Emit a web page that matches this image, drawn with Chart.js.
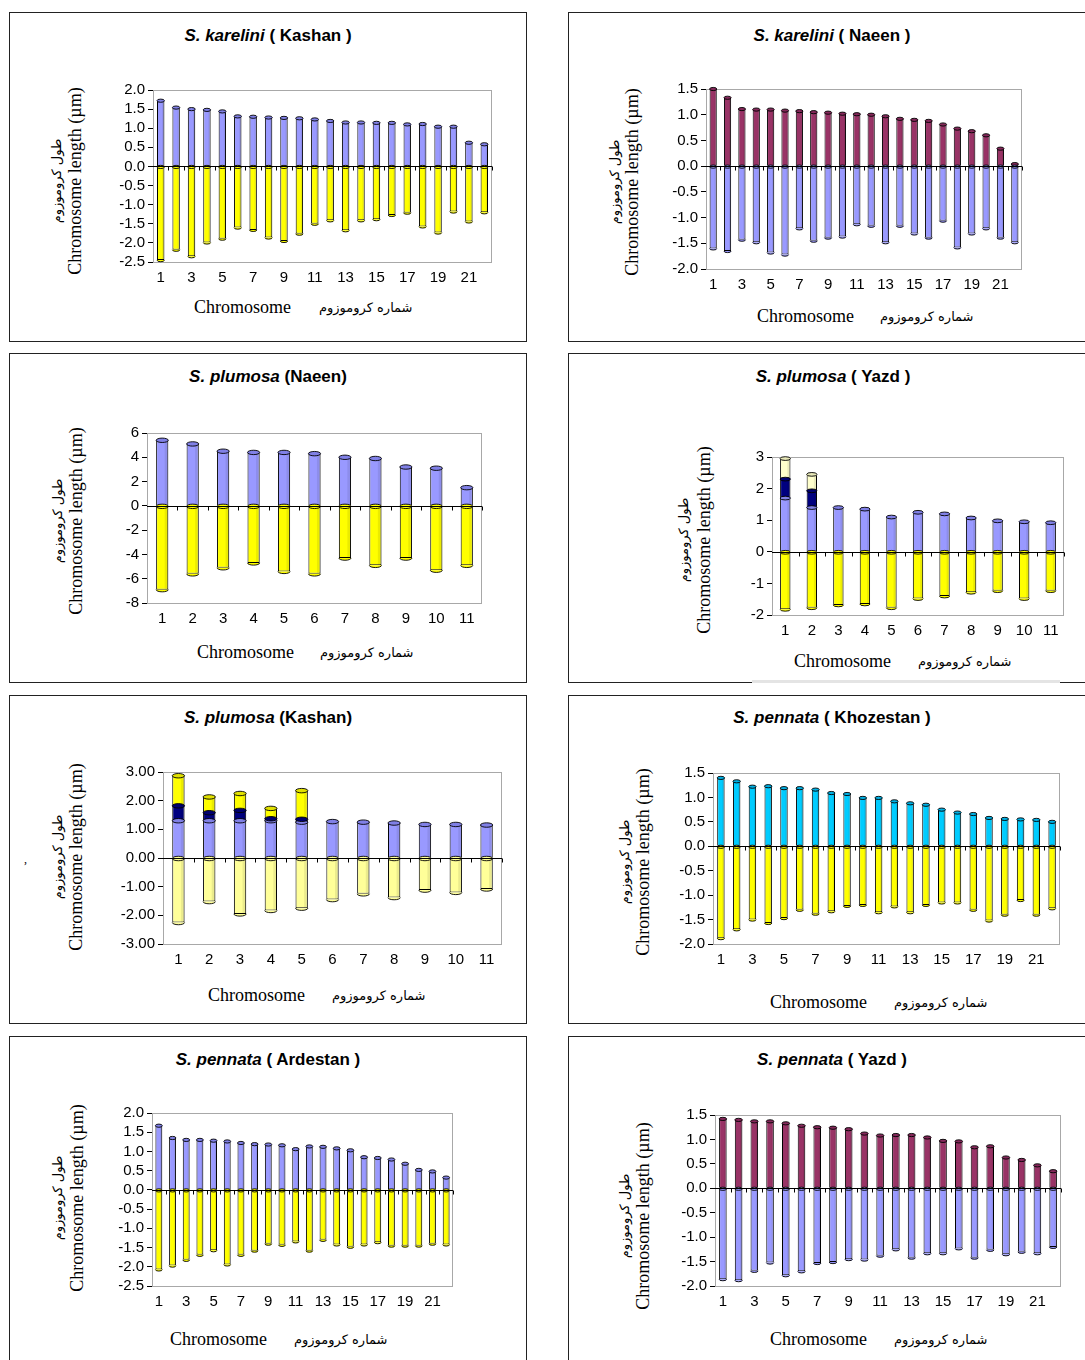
<!DOCTYPE html>
<html>
<head>
<meta charset="utf-8">
<script src="https://cdn.jsdelivr.net/npm/chart.js@4.4.0/dist/chart.umd.min.js"></script>
<style>
  body { margin: 0; background: #fff; }
  #page { position: relative; width: 1085px; height: 1360px; overflow: hidden; background: #fff; }
  .box { position: absolute; border: 1.5px solid #222; box-sizing: border-box; }
  .title { position: absolute; width: 400px; height: 22px; line-height: 22px; text-align: center;
           font: bold 17px "Liberation Sans", Arial, sans-serif; color: #000; white-space: nowrap; }
  .rot { position: absolute; width: 300px; height: 20px; line-height: 20px; text-align: center;
         transform: rotate(-90deg); white-space: nowrap; color: #000; }
  .en { font: 18px "Liberation Serif", "Times New Roman", serif; }
  .fa { font: 13px "DejaVu Sans", sans-serif; }
  .xl { position: absolute; height: 20px; line-height: 20px; white-space: nowrap; color: #000; }
  canvas { position: absolute; }
</style>
</head>
<body>
<div id="page"></div>
<script>
// chromosome numbers on the x axis
var labels22 = ["1","2","3","4","5","6","7","8","9","10","11","12","13","14","15","16","17","18","19","20","21","22"];
var labels11 = ["1","2","3","4","5","6","7","8","9","10","11"];

// S. karelini (Kashan)
var karKashanUp   = [1.72,1.54,1.50,1.48,1.44,1.31,1.30,1.28,1.27,1.26,1.23,1.19,1.15,1.15,1.14,1.14,1.10,1.11,1.04,1.04,0.62,0.58];
var karKashanDown = [-2.45,-2.18,-2.35,-1.99,-1.89,-1.60,-1.66,-1.86,-1.95,-1.76,-1.50,-1.41,-1.67,-1.41,-1.38,-1.27,-1.21,-1.57,-1.73,-1.18,-1.44,-1.20];
// S. karelini (Naeen)
var karNaeenUp    = [1.50,1.33,1.11,1.10,1.10,1.08,1.07,1.05,1.04,1.02,1.01,1.00,0.97,0.92,0.90,0.88,0.81,0.73,0.68,0.60,0.34,0.04];
var karNaeenDown  = [-1.60,-1.65,-1.43,-1.48,-1.68,-1.72,-1.21,-1.45,-1.39,-1.37,-1.13,-1.16,-1.48,-1.16,-1.31,-1.39,-1.06,-1.58,-1.31,-1.21,-1.39,-1.48];
// S. plumosa (Naeen)
var pluNaeenUp    = [5.4,5.1,4.5,4.4,4.4,4.3,4.0,3.9,3.2,3.1,1.5];
var pluNaeenDown  = [-6.9,-5.6,-5.1,-4.7,-5.4,-5.6,-4.3,-4.9,-4.3,-5.3,-4.9];
// S. plumosa (Yazd) - arm, satellite, top piece
var pluYazdUp     = [1.70,1.40,1.40,1.35,1.10,1.25,1.20,1.07,0.98,0.95,0.92];
var pluYazdSat    = [0.60,0.53,null,null,null,null,null,null,null,null,null];
var pluYazdTop    = [0.65,0.52,null,null,null,null,null,null,null,null,null];
var pluYazdDown   = [-1.82,-1.77,-1.68,-1.65,-1.77,-1.48,-1.40,-1.28,-1.23,-1.48,-1.23];
// S. plumosa (Kashan)
var pluKashanUp   = [1.30,1.30,1.30,1.30,1.25,1.27,1.25,1.22,1.17,1.17,1.15];
var pluKashanSat  = [0.52,0.28,0.36,0.07,0.10,null,null,null,null,null,null];
var pluKashanTop  = [1.05,0.55,0.59,0.36,1.00,null,null,null,null,null,null];
var pluKashanDown = [-2.25,-1.52,-1.95,-1.83,-1.75,-1.45,-1.25,-1.38,-1.12,-1.20,-1.08];
// S. pennata (Khozestan)
var penKhozUp     = [1.40,1.33,1.22,1.23,1.19,1.19,1.16,1.09,1.07,0.99,0.99,0.92,0.88,0.85,0.75,0.69,0.66,0.58,0.56,0.55,0.54,0.50];
var penKhozDown   = [-1.88,-1.70,-1.50,-1.57,-1.47,-1.30,-1.38,-1.33,-1.22,-1.20,-1.35,-1.23,-1.35,-1.20,-1.15,-1.15,-1.30,-1.52,-1.40,-1.10,-1.40,-1.27];
// S. pennata (Ardestan)
var penArdUp      = [1.67,1.35,1.30,1.30,1.28,1.26,1.22,1.19,1.18,1.16,1.06,1.13,1.12,1.08,1.03,0.85,0.83,0.79,0.68,0.52,0.48,0.32];
var penArdDown    = [-2.07,-1.97,-1.82,-1.69,-1.57,-1.94,-1.69,-1.58,-1.40,-1.43,-1.34,-1.58,-1.30,-1.42,-1.48,-1.42,-1.36,-1.45,-1.45,-1.45,-1.40,-1.42];
// S. pennata (Yazd)
var penYazdUp     = [1.42,1.40,1.37,1.37,1.33,1.28,1.25,1.24,1.21,1.12,1.08,1.09,1.09,1.04,0.97,0.96,0.84,0.86,0.63,0.58,0.47,0.35];
var penYazdDown   = [-1.86,-1.88,-1.69,-1.52,-1.78,-1.70,-1.53,-1.51,-1.45,-1.46,-1.38,-1.25,-1.42,-1.33,-1.33,-1.23,-1.42,-1.26,-1.35,-1.30,-1.33,-1.20];

// colours (fill, cap)
var LAV = ["#9999FF", "#8080e6"];
var YEL = ["#FFFF00", "#e0e000"];
var PALE = ["#FFFF99", "#e4e484"];
var MAR = ["#993366", "#84285a"];
var CYA = ["#00CCFF", "#00b0e4"];
var NAV = ["#000080", "#000070"];
var CRM = ["#FFFFCC", "#e8e8b8"];

var page = document.getElementById("page");

function el(cls, html, css) {
  var d = document.createElement("div");
  d.className = cls;
  d.innerHTML = html;
  for (var k in css) d.style[k] = css[k];
  page.appendChild(d);
  return d;
}

function ds(data, col) {
  return { data: data, backgroundColor: col[0], capColor: col[1] };
}

// cylinder-ish look, plot frame, zero line and x tick marks
var cylinder = {
  id: "cylinder",
  beforeDatasetsDraw: function (chart) {
    var a = chart.chartArea, ctx = chart.ctx;
    ctx.save();
    ctx.strokeStyle = "#a8a8a8";
    ctx.lineWidth = 1;
    ctx.strokeRect(a.left + 0.5, a.top + 0.5, a.width - 1, a.height);
    ctx.restore();
  },
  afterDatasetsDraw: function (chart) {
    var ctx = chart.ctx, a = chart.chartArea;
    ctx.save();
    chart.data.datasets.forEach(function (set, di) {
      var meta = chart.getDatasetMeta(di);
      meta.data.forEach(function (bar, i) {
        var v = set.data[i];
        if (v == null) return;
        var w = bar.width, top = Math.min(bar.y, bar.base), bot = Math.max(bar.y, bar.base);
        var ry = Math.max(1.6, w * 0.18);
        ctx.fillStyle = "rgba(0,0,0,0.08)";
        ctx.fillRect(bar.x + w * 0.2, top, w * 0.3, bot - top);
        ctx.lineWidth = 0.9;
        ctx.strokeStyle = "#000";
        if (v > 0) {
          ctx.beginPath();
          ctx.ellipse(bar.x, bar.y, w / 2, ry, 0, 0, Math.PI * 2);
          ctx.fillStyle = set.capColor;
          ctx.fill();
          ctx.stroke();
        } else {
          ctx.beginPath();
          ctx.ellipse(bar.x, bar.y, w / 2, ry, 0, 0, Math.PI);
          ctx.fillStyle = set.backgroundColor;
          ctx.fill();
          ctx.stroke();
          ctx.beginPath();
          ctx.ellipse(bar.x, bar.base, w / 2, ry, 0, 0, Math.PI * 2);
          ctx.fillStyle = set.backgroundColor;
          ctx.fill();
          ctx.stroke();
        }
      });
    });
    var ys = chart.scales.y, xs = chart.scales.x;
    var y0 = Math.round(ys.getPixelForValue(0)) + 0.5;
    ctx.strokeStyle = "#000";
    ctx.lineWidth = 1;
    ctx.beginPath();
    ctx.moveTo(a.left, y0);
    ctx.lineTo(a.right, y0);
    var n = chart.data.labels.length;
    for (var i = 1; i <= n; i++) {
      var bx = i < n ? (xs.getPixelForValue(i - 1) + xs.getPixelForValue(i)) / 2 : a.right;
      bx = Math.round(bx) + 0.5;
      ctx.moveTo(bx, y0);
      ctx.lineTo(bx, y0 + 4);
    }
    ctx.stroke();
    ctx.restore();
  }
};

var YW = 46, PT = 9, PR = 9, XH = 30;
var tickFont = { family: "Liberation Sans", size: 15 };

function panel(p) {
  // frame and texts
  el("box", "", { left: p.box[0] + "px", top: p.box[1] + "px", width: p.box[2] + "px", height: p.box[3] + "px" });
  el("title", p.title, { left: (p.titleAt[0] - 200) + "px", top: (p.titleAt[1] - 11) + "px" });
  el("rot fa", "طول کروموزوم", { left: (p.yAt[0] - 150) + "px", top: (p.yAt[2] - 10) + "px" });
  el("rot en", "Chromosome length (µm)", { left: (p.yAt[1] - 150) + "px", top: (p.yAt[2] - 10) + "px" });
  el("xl en", "Chromosome", { left: p.xAt[0] + "px", top: (p.xAt[2] - 10) + "px" });
  el("xl fa", "شماره کروموزوم", { left: p.xAt[1] + "px", top: (p.xAt[2] - 9) + "px", direction: "rtl" });

  var l = p.plot[0], t = p.plot[1], r = p.plot[2], b = p.plot[3];
  var c = document.createElement("canvas");
  c.width = YW + (r - l) + PR;
  c.height = PT + (b - t) + XH;
  c.style.left = (l - YW) + "px";
  c.style.top = (t - PT) + "px";
  c.style.width = c.width + "px";
  c.style.height = c.height + "px";
  page.appendChild(c);

  var odd = p.labels.length > 11;
  new Chart(c, {
    type: "bar",
    data: { labels: p.labels, datasets: p.datasets },
    options: {
      responsive: false,
      animation: false,
      events: [],
      layout: { padding: { top: PT, right: PR, left: 0, bottom: 0 } },
      datasets: { bar: { barPercentage: p.bar, categoryPercentage: 1, borderWidth: 1, borderColor: "#000" } },
      plugins: { legend: { display: false }, tooltip: { enabled: false } },
      scales: {
        x: {
          stacked: true,
          offset: true,
          grid: { display: false, drawTicks: false },
          border: { display: false },
          ticks: {
            autoSkip: false, maxRotation: 0, padding: 7, color: "#000", font: tickFont,
            callback: function (v, i) { return odd && i % 2 ? "" : p.labels[i]; }
          },
          afterFit: function (s) { s.height = XH; }
        },
        y: {
          stacked: true,
          min: p.y[0], max: p.y[1],
          ticks: {
            stepSize: p.y[2], autoSkip: false, color: "#000", font: tickFont, padding: 3,
            callback: function (v) { return Number(v).toFixed(p.y[3]); }
          },
          grid: { drawOnChartArea: false, color: "#000", tickLength: 5 },
          border: { color: "#000" },
          afterFit: function (s) { s.width = YW; }
        }
      }
    },
    plugins: [cylinder]
  });
}

panel({
  box: [9, 12, 518, 330], title: "<i>S. karelini</i> ( Kashan )", titleAt: [268, 37],
  yAt: [59, 75, 181], xAt: [194, 319, 307],
  plot: [153, 87, 492, 262], y: [-2.5, 2.0, 0.5, 1], bar: 0.48,
  labels: labels22, datasets: [ds(karKashanUp, LAV), ds(karKashanDown, YEL)]
});
panel({
  box: [568, 12, 530, 330], title: "<i>S. karelini</i> ( Naeen )", titleAt: [832, 37],
  yAt: [617, 632, 182], xAt: [757, 880, 316],
  plot: [706, 86, 1022, 269], y: [-2.0, 1.5, 0.5, 1], bar: 0.5,
  labels: labels22, datasets: [ds(karNaeenUp, MAR), ds(karNaeenDown, LAV)]
});
panel({
  box: [9, 353, 518, 330], title: "<i>S. plumosa</i> (Naeen)", titleAt: [268, 378],
  yAt: [60, 76, 521], xAt: [197, 320, 652],
  plot: [147, 430, 482, 603], y: [-8, 6, 2, 0], bar: 0.4,
  labels: labels11, datasets: [ds(pluNaeenUp, LAV), ds(pluNaeenDown, YEL)]
});
panel({
  box: [568, 353, 530, 330], title: "<i>S. plumosa</i> ( Yazd )", titleAt: [833, 378],
  yAt: [686, 704, 540], xAt: [794, 918, 661],
  plot: [772, 454, 1064, 615], y: [-2, 3, 1, 0], bar: 0.39,
  labels: labels11,
  datasets: [ds(pluYazdUp, LAV), ds(pluYazdSat, NAV), ds(pluYazdTop, CRM), ds(pluYazdDown, YEL)]
});
panel({
  box: [9, 695, 518, 329], title: "<i>S. plumosa</i> (Kashan)", titleAt: [268, 719],
  yAt: [60, 76, 857], xAt: [208, 332, 995],
  plot: [163, 769, 502, 944], y: [-3, 3, 1, 2], bar: 0.4,
  labels: labels11,
  datasets: [ds(pluKashanUp, LAV), ds(pluKashanSat, NAV), ds(pluKashanTop, YEL), ds(pluKashanDown, PALE)]
});
panel({
  box: [568, 695, 530, 329], title: "<i>S. pennata</i> ( Khozestan )", titleAt: [832, 719],
  yAt: [627, 643, 862], xAt: [770, 894, 1002],
  plot: [713, 770, 1060, 944], y: [-2.0, 1.5, 0.5, 1], bar: 0.47,
  labels: labels22, datasets: [ds(penKhozUp, CYA), ds(penKhozDown, YEL)]
});
panel({
  box: [9, 1036, 518, 340], title: "<i>S. pennata</i> ( Ardestan )", titleAt: [268, 1061],
  yAt: [60, 77, 1198], xAt: [170, 294, 1339],
  plot: [152, 1110, 453, 1286], y: [-2.5, 2.0, 0.5, 1], bar: 0.5,
  labels: labels22, datasets: [ds(penArdUp, LAV), ds(penArdDown, YEL)]
});
panel({
  box: [568, 1036, 530, 340], title: "<i>S. pennata</i> ( Yazd )", titleAt: [832, 1061],
  yAt: [627, 643, 1216], xAt: [770, 894, 1339],
  plot: [715, 1112, 1061, 1286], y: [-2.0, 1.5, 0.5, 1], bar: 0.48,
  labels: labels22, datasets: [ds(penYazdUp, MAR), ds(penYazdDown, LAV)]
});

// small details of the scanned page
el("xl", ",", { left: "24px", top: "852px", font: "12px 'Liberation Serif', serif" });
el("xl", "", { left: "752px", top: "680px", width: "308px", height: "3px", background: "#e4e4e4" });
</script>
</body>
</html>
